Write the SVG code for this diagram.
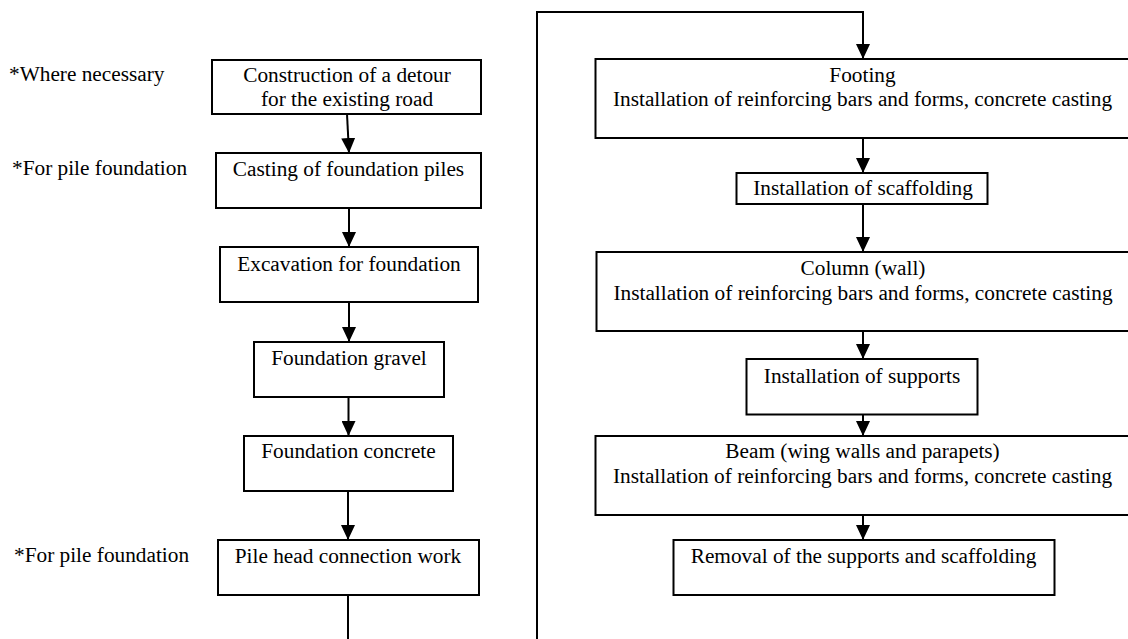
<svg xmlns="http://www.w3.org/2000/svg" width="1128" height="639" viewBox="0 0 1128 639">
<style>
.box{fill:#fff;stroke:#000;stroke-width:2}
.t{font-family:"Liberation Serif","Times New Roman",serif;font-size:21.3px;fill:#000}
.c{text-anchor:middle}
.ln{fill:none;stroke:#000;stroke-width:2}
</style>
<defs>
<marker id="ah" viewBox="0 0 15 14" refX="15" refY="7" markerWidth="15" markerHeight="14" markerUnits="userSpaceOnUse" orient="auto">
<path d="M0,0 L15,7 L0,14 z" fill="#000"/>
</marker>
</defs>
<rect width="1128" height="639" fill="#fff"/>
<g id="notes">
<text class="t" x="9" y="81">*Where necessary</text>
<text class="t" x="12" y="175">*For pile foundation</text>
<text class="t" x="14" y="562">*For pile foundation</text>
</g>
<g id="connectors">
<path class="ln" d="M347,114 L349,153" marker-end="url(#ah)"/>
<path class="ln" d="M349,208 L349,247" marker-end="url(#ah)"/>
<path class="ln" d="M349,302 L349,342" marker-end="url(#ah)"/>
<path class="ln" d="M348.5,397 L348.5,436" marker-end="url(#ah)"/>
<path class="ln" d="M348,491 L348,540" marker-end="url(#ah)"/>
<path class="ln" d="M348,595 L348,639"/>
<path class="ln" d="M537,639 L537,12 L863,12 L863,59" marker-end="url(#ah)"/>
<path class="ln" d="M863,138 L863,173" marker-end="url(#ah)"/>
<path class="ln" d="M863,204 L863,252" marker-end="url(#ah)"/>
<path class="ln" d="M863,331 L863,359" marker-end="url(#ah)"/>
<path class="ln" d="M863,415 L863,436" marker-end="url(#ah)"/>
<path class="ln" d="M863,515 L863,540" marker-end="url(#ah)"/>
</g>
<g id="n1"><rect class="box" x="212" y="60" width="269" height="54"/>
<text class="t c" x="347" y="82">Construction of a detour</text>
<text class="t c" x="347" y="106">for the existing road</text></g>
<g id="n2"><rect class="box" x="216" y="153" width="265" height="55"/>
<text class="t c" x="348.5" y="176">Casting of foundation piles</text></g>
<g id="n3"><rect class="box" x="220" y="247" width="258" height="55"/>
<text class="t c" x="349" y="271">Excavation for foundation</text></g>
<g id="n4"><rect class="box" x="254" y="342" width="190" height="55"/>
<text class="t c" x="349" y="365">Foundation gravel</text></g>
<g id="n5"><rect class="box" x="244" y="436" width="209" height="55"/>
<text class="t c" x="348.5" y="458">Foundation concrete</text></g>
<g id="n6"><rect class="box" x="218" y="540" width="261" height="55"/>
<text class="t c" x="348" y="563">Pile head connection work</text></g>
<g id="r1"><rect class="box" x="595.5" y="59" width="545" height="79"/>
<text class="t c" x="862.5" y="82">Footing</text>
<text class="t c" x="862.5" y="106">Installation of reinforcing bars and forms, concrete casting</text></g>
<g id="r2"><rect class="box" x="736.5" y="173" width="251" height="31"/>
<text class="t c" x="863" y="195">Installation of scaffolding</text></g>
<g id="r3"><rect class="box" x="596.5" y="252" width="545" height="79"/>
<text class="t c" x="863" y="275">Column (wall)</text>
<text class="t c" x="863" y="300">Installation of reinforcing bars and forms, concrete casting</text></g>
<g id="r4"><rect class="box" x="746.5" y="359" width="231" height="55.5"/>
<text class="t c" x="862" y="383">Installation of supports</text></g>
<g id="r5"><rect class="box" x="595.5" y="436" width="545" height="79"/>
<text class="t c" x="862.5" y="458">Beam (wing walls and parapets)</text>
<text class="t c" x="862.5" y="483">Installation of reinforcing bars and forms, concrete casting</text></g>
<g id="r6"><rect class="box" x="673.5" y="540" width="381" height="55"/>
<text class="t c" x="863.5" y="563">Removal of the supports and scaffolding</text></g>
</svg>
